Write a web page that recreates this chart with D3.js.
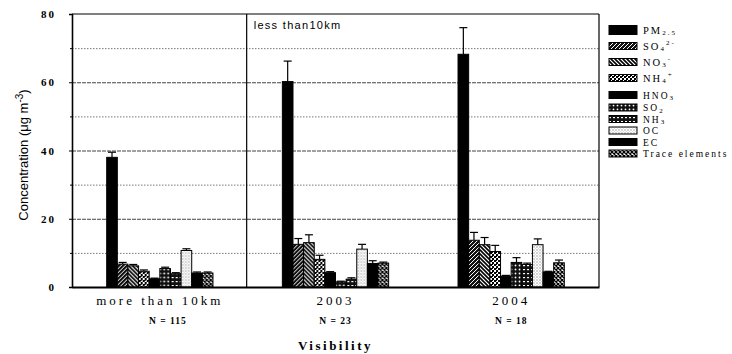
<!DOCTYPE html>
<html><head><meta charset="utf-8">
<script src="https://cdn.jsdelivr.net/npm/d3@7"></script>
<style>body{margin:0;background:#fff}svg{display:block}</style>
</head><body>
<svg id="c" width="732" height="354"></svg>
<script>
const groups = ["more than 10km", "2003", "2004"];
const groupN = ["N = 115", "N = 23", "N = 18"];
const species = ["PM2.5","SO4","NO3","NH4","HNO3","SO2","NH3","OC","EC","Trace"];
const values_gt10 = [38.0, 6.7, 6.2, 4.6, 2.4, 5.4, 3.9, 10.7, 4.1, 4.1];
const errors_gt10 = [1.5, 0.5, 0.4, 0.4, 0.2, 0.4, 0.3, 0.5, 0.3, 0.3];
const values_2003 = [60.2, 12.5, 13.0, 8.1, 4.2, 1.5, 2.3, 11.1, 6.9, 7.0];
const errors_2003 = [6.0, 1.7, 2.3, 1.2, 0.3, 0.2, 0.4, 1.4, 0.8, 0.3];
const values_2004 = [68.2, 13.7, 12.4, 10.4, 3.2, 7.2, 6.6, 12.4, 4.4, 7.1];
const errors_2004 = [7.8, 2.3, 2.1, 1.8, 0.2, 1.4, 0.4, 1.7, 0.2, 0.8];
const yTicks = [0, 20, 40, 60, 80];
const gridVals = [10, 20, 30, 40, 50, 60, 70];

const seriesValues = [values_gt10, values_2003, values_2004];
const seriesErrors = [errors_gt10, errors_2003, errors_2004];

const svg = d3.select("#c");
const L = 72, R = 599, T = 14, B = 287;
const y = d3.scaleLinear().domain([0, 80]).range([B, T]);
const x0 = d3.scaleBand().domain(groups).range([L, R]).padding(0);
const innerW = x0.bandwidth() * 0.605;
const x1 = d3.scaleBand().domain(species).range([0, innerW]).padding(0);
const off = (x0.bandwidth() - innerW) / 2;

// patterns
const defs = svg.append("defs");
function pat(id, w, h, build) {
  const p = defs.append("pattern").attr("id", id).attr("patternUnits", "userSpaceOnUse")
    .attr("width", w).attr("height", h);
  build(p);
}
pat("pSO4", 4, 4, p => {
  p.append("rect").attr("width", 4).attr("height", 4).attr("fill", "#111");
  p.append("path").attr("d", "M-1,1 L1,-1 M0,4 L4,0 M3,5 L5,3").attr("stroke", "#fff").attr("stroke-width", 1);
});
pat("pNO3", 4, 4, p => {
  p.append("rect").attr("width", 4).attr("height", 4).attr("fill", "#fff");
  p.append("path").attr("d", "M-1,-1 L5,5 M-1,3 L1,5 M3,-1 L5,1").attr("stroke", "#000").attr("stroke-width", 1.6);
});
pat("pNH4", 4, 4, p => {
  p.append("rect").attr("width", 4).attr("height", 4).attr("fill", "#fff");
  p.append("rect").attr("width", 2).attr("height", 2).attr("fill", "#000");
  p.append("rect").attr("x", 2).attr("y", 2).attr("width", 2).attr("height", 2).attr("fill", "#000");
  p.append("rect").attr("x", 2).attr("y", 0).attr("width", 1).attr("height", 1).attr("fill", "#000");
});
pat("pSO2", 4, 4, p => {
  p.append("rect").attr("width", 4).attr("height", 4).attr("fill", "#111");
  p.append("circle").attr("cx", 1.5).attr("cy", 1.5).attr("r", 0.9).attr("fill", "#fff");
});
pat("pNH3", 4, 4, p => {
  p.append("rect").attr("width", 4).attr("height", 4).attr("fill", "#111");
  p.append("rect").attr("x", 1).attr("y", 1).attr("width", 2).attr("height", 1.2).attr("fill", "#fff");
});
pat("pOC", 3, 3, p => {
  p.append("rect").attr("width", 3).attr("height", 3).attr("fill", "#fff");
  p.append("circle").attr("cx", 1).attr("cy", 1).attr("r", 0.7).attr("fill", "#888");
  p.append("circle").attr("cx", 2.5).attr("cy", 2.5).attr("r", 0.4).attr("fill", "#aaa");
});
pat("pTR", 4, 4, p => {
  p.append("rect").attr("width", 4).attr("height", 4).attr("fill", "#fff");
  p.append("path").attr("d", "M0,0 L4,4 M4,0 L0,4").attr("stroke", "#000").attr("stroke-width", 1.3);
});
const fills = {"PM2.5":"#000","SO4":"url(#pSO4)","NO3":"url(#pNO3)","NH4":"url(#pNH4)","HNO3":"#000",
  "SO2":"url(#pSO2)","NH3":"url(#pNH3)","OC":"url(#pOC)","EC":"#000","Trace":"url(#pTR)"};

// gridlines
svg.append("g").selectAll("line").data(gridVals).join("line")
  .attr("x1", L).attr("x2", R).attr("y1", d => y(d) + 0.5).attr("y2", d => y(d) + 0.5)
  .attr("stroke", d => d % 20 === 0 ? "#444" : "#777")
  .attr("stroke-width", 1)
  .attr("stroke-dasharray", d => d % 20 === 0 ? "4,1" : "1.5,1.5");

// bars
const gG = svg.append("g").selectAll("g").data(groups).join("g")
  .attr("transform", g => `translate(${x0(g) + off},0)`);
gG.each(function(g, gi) {
  const sel = d3.select(this);
  const data = species.map((s, i) => ({s, v: seriesValues[gi][i], e: seriesErrors[gi][i]}));
  sel.selectAll("line.err").data(data.filter(d => d.e > 0)).join("line").attr("class", "err")
    .attr("x1", d => x1(d.s) + x1.bandwidth() / 2).attr("x2", d => x1(d.s) + x1.bandwidth() / 2)
    .attr("y1", d => y(d.v)).attr("y2", d => y(d.v + d.e)).attr("stroke", "#000").attr("stroke-width", 1.2);
  sel.selectAll("line.cap").data(data.filter(d => d.e > 0)).join("line").attr("class", "cap")
    .attr("x1", d => x1(d.s) + x1.bandwidth() / 2 - 4).attr("x2", d => x1(d.s) + x1.bandwidth() / 2 + 4)
    .attr("y1", d => y(d.v + d.e)).attr("y2", d => y(d.v + d.e)).attr("stroke", "#000").attr("stroke-width", 1.2);
  sel.selectAll("rect").data(data).join("rect")
    .attr("x", d => x1(d.s)).attr("width", x1.bandwidth())
    .attr("y", d => y(d.v)).attr("height", d => y(0) - y(d.v))
    .attr("fill", d => fills[d.s]).attr("stroke", "#000").attr("stroke-width", 1);
});

// frame
svg.append("line").attr("x1", L).attr("x2", R).attr("y1", T).attr("y2", T).attr("stroke", "#000").attr("stroke-width", 1.2);
svg.append("line").attr("x1", R).attr("x2", R).attr("y1", T).attr("y2", B).attr("stroke", "#000").attr("stroke-width", 1.2);
const sepX = x0(groups[1]) - 1;
svg.append("line").attr("x1", sepX).attr("x2", sepX).attr("y1", T).attr("y2", B).attr("stroke", "#000").attr("stroke-width", 1.2);

// y axis
const yAxis = d3.axisLeft(y).tickValues(yTicks).tickSize(3).tickFormat(d3.format("d"));
const ya = svg.append("g").attr("transform", `translate(${L},0)`).call(yAxis);
ya.select(".domain").attr("stroke-width", 1.6);
ya.selectAll("text").attr("x", -16).attr("font-family", "Liberation Serif, serif")
  .attr("font-weight", "bold").attr("font-size", 11).attr("letter-spacing", "2px");
svg.append("g").attr("transform", `translate(${L},0)`)
  .call(d3.axisLeft(y).tickValues(gridVals.filter(d => d % 20 !== 0)).tickSize(2).tickFormat(""))
  .select(".domain").remove();

// x axis
const xa = svg.append("g").attr("transform", `translate(0,${B})`)
  .call(d3.axisBottom(x0).tickSize(0).tickFormat(""));
xa.select(".domain").attr("stroke-width", 2.2);
svg.append("g").selectAll("text").data(groups).join("text")
  .attr("x", g => x0(g) + x0.bandwidth() / 2).attr("y", 305)
  .attr("text-anchor", "middle").attr("font-family", "Liberation Serif, serif").attr("font-size", 13)
  .attr("letter-spacing", "3px").text(g => g);
svg.append("g").selectAll("text").data(groupN).join("text")
  .attr("x", (n, i) => x0(groups[i]) + x0.bandwidth() / 2 + (i === 0 ? 8 : 0)).attr("y", 324)
  .attr("text-anchor", "middle").attr("font-family", "Liberation Serif, serif").attr("font-size", 9.5)
  .attr("font-weight", "bold").attr("letter-spacing", "1px").text(n => n);
svg.append("text").attr("x", (L + R) / 2).attr("y", 350).attr("text-anchor", "middle")
  .attr("font-family", "Liberation Serif, serif").attr("font-weight", "bold").attr("font-size", 13)
  .attr("letter-spacing", "2.5px").text("Visibility");

// y title
const yt = svg.append("text").attr("transform", "translate(28,155) rotate(-90)")
  .attr("text-anchor", "middle").attr("font-family", "Liberation Sans, Arial, sans-serif").attr("font-size", 13);
yt.append("tspan").text("Concentration (μg m");
yt.append("tspan").attr("dy", -5).attr("font-size", 10).text("-3");
yt.append("tspan").attr("dy", 5).text(")");

// annotation
svg.append("text").attr("x", sepX + 7).attr("y", 29).attr("font-family", "Liberation Sans, Arial, sans-serif")
  .attr("font-size", 11).attr("letter-spacing", "1.3px").text("less than10km");

// legend
const legendRows = [30, 46, 62, 78, 95, 107.5, 119, 130.5, 142, 153.5];
const legendLabels = [
  [["PM", 0], ["2.5", 1]],
  [["SO", 0], ["4", 1], ["2-", 2]],
  [["NO", 0], ["3", 1], ["-", 2]],
  [["NH", 0], ["4", 1], ["+", 2]],
  [["HNO", 0], ["3", 1]],
  [["SO", 0], ["2", 1]],
  [["NH", 0], ["3", 1]],
  [["OC", 0]],
  [["EC", 0]],
  [["Trace elements", 0]]
];
const lg = svg.append("g");
species.forEach((s, i) => {
  const cy = legendRows[i];
  const h = i === 0 ? 9 : 7;
  lg.append("rect").attr("x", 609).attr("y", cy - h / 2).attr("width", 28).attr("height", h)
    .attr("fill", fills[s]).attr("stroke", "#000").attr("stroke-width", 1);
  const fs = i >= 4 ? 9.5 : 10.5;
  const t = lg.append("text").attr("x", 643).attr("y", cy + 3.5).attr("font-family", "Liberation Serif, serif")
    .attr("font-size", fs).attr("letter-spacing", "2px");
  legendLabels[i].forEach(([txt, k]) => {
    const dy = k === 1 ? 1.5 : (k === 2 ? -6 : 0);
    t.append("tspan").attr("dy", dy).attr("font-size", k === 0 ? fs : 7).text(txt);
  });
});
</script>
</body></html>
